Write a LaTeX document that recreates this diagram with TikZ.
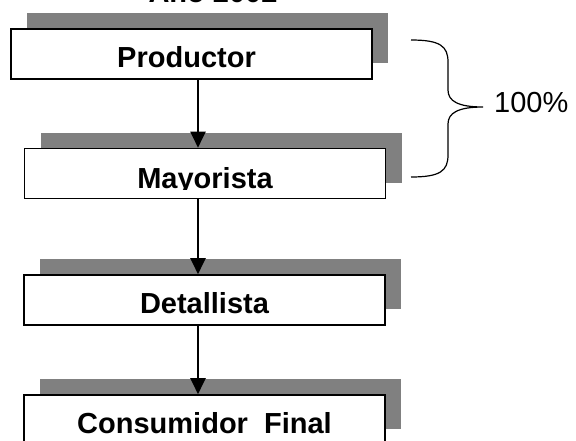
\documentclass[tikz,border=0pt]{standalone}
\usepackage{fontspec}
\setmainfont{Liberation Sans}
\usetikzlibrary{shadows}
\usetikzlibrary{arrows.meta}
\definecolor{shade}{HTML}{808080}
\tikzstyle{stage} = [draw, line width=1.6pt, fill=white, minimum width=361pt,
                     minimum height=50pt, inner sep=0pt, text height=38pt,
                     text depth=12pt, font=\fontsize{29}{34}\selectfont\bfseries,
                     drop shadow={shadow xshift=16pt, shadow yshift=16pt,
                                  fill=shade, opacity=1}]
\tikzstyle{flow} = [line width=2pt, -{Triangle[width=15pt,length=16pt]}]

\begin{document}
\begin{tikzpicture}[x=1pt, y=-1pt, font=\fontsize{29}{34}\selectfont]

% background
\useasboundingbox (0,0) rectangle (576,440);
\fill[white] (0,0) rectangle (576,440);

% title, cut by the page edge
\node [anchor=base, inner sep=0pt, font=\fontsize{29}{34}\selectfont\bfseries]
      (title) at (213,2) {Año 2002};

% add nodes
\node [stage] (prod) at (191.5,54) {\hspace*{-10pt}Productor};
\node [stage] (may)  at (205,173.5) {};
\node [stage] (det)  at (204.5,300) {Detallista};
\node [stage] (cons) at (204.5,420) {Consumidor\ \ Final};

% text of the second box, clipped at its baseline
\begin{scope}
  \clip (may.north west) rectangle (may.east |- 0,189);
  \node [anchor=base, inner sep=0pt, font=\fontsize{29}{34}\selectfont\bfseries]
        (maytxt) at (205,188) {Mayorista};
\end{scope}

\coordinate (axis) at (198,0);

% brace and share
\coordinate (brtop) at (411,40);
\coordinate (brtip) at (483,107);
\coordinate (brbot) at (411,177);
\node [anchor=base west, inner sep=0pt] (pct) at (494,112) {100\%};

% add connections
\draw[flow] (prod.south -| axis) -- (may.north -| axis);
\draw[flow] (may.south -| axis) -- (det.north -| axis);
\draw[flow] (det.south -| axis) -- (cons.north -| axis);

\draw[line width=1.2pt] (brtop) .. controls (440,40) and (448,46) .. (448,62)
  -- (448,90) .. controls (448,101) and (458,107) .. (brtip)
  .. controls (458,107) and (448,113) .. (448,124)
  -- (448,155) .. controls (448,171) and (440,177) .. (brbot);

\end{tikzpicture}
\end{document}
